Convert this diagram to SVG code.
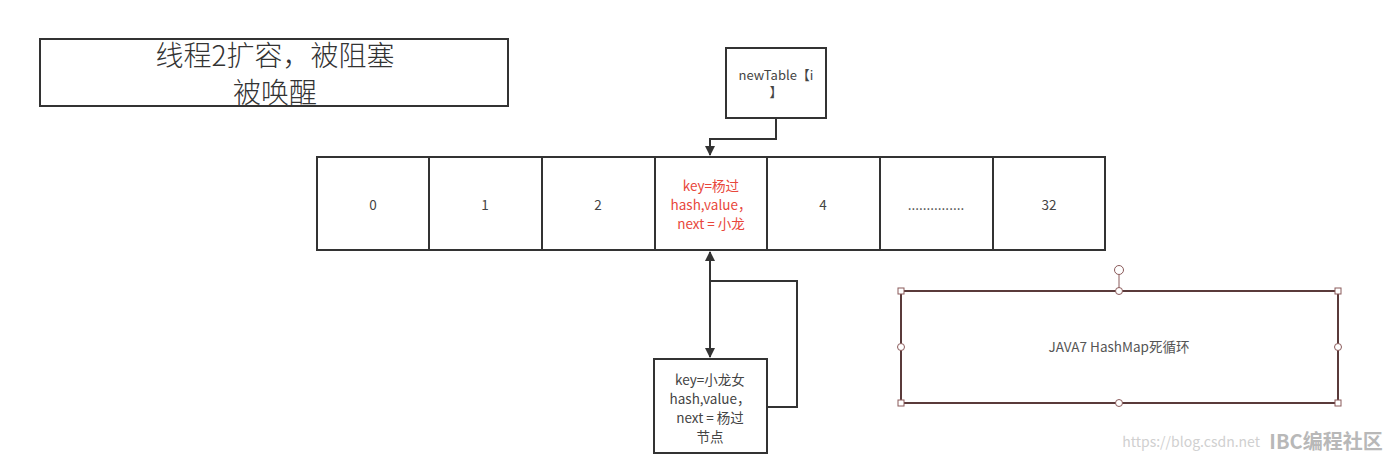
<svg xmlns="http://www.w3.org/2000/svg" width="1395" height="465" viewBox="0 0 1395 465">
<style>
text{font-family:"Noto Sans CJK SC","Liberation Sans",sans-serif;fill:#444;text-anchor:middle}
.box{fill:#fff;stroke:#333;stroke-width:2}
.cell{fill:#fff;stroke:#333;stroke-width:2}
.s{font-size:13.5px}
.red{fill:#e8473c}
.conn{fill:none;stroke:#333;stroke-width:2}
.h{fill:#fff;stroke:#8a5a5a;stroke-width:1}
</style>
<defs>
<marker id="ah" viewBox="0 0 10 10" refX="9" refY="5" markerWidth="10" markerHeight="12" markerUnits="userSpaceOnUse" orient="auto-start-reverse">
<path d="M0,0 L10,5 L0,10 z" fill="#333"/>
</marker>
</defs>
<rect width="1395" height="465" fill="#fff"/>
<g id="title">
<rect class="box" x="40" y="39" width="468" height="67"/>
<text x="275" y="66" style="font-size:28px;font-weight:300;fill:#333">线程2扩容，被阻塞</text>
<text x="275" y="103" style="font-size:28px;font-weight:300;fill:#333">被唤醒</text>
</g>
<g id="newTable">
<rect class="box" x="726" y="48" width="100" height="70"/>
<text x="776" y="80" style="font-size:13px">newTable【i</text>
<text x="776" y="97" style="font-size:13px">】</text>
</g>
<g id="array">
<rect class="cell" x="317" y="157" width="112" height="93"/>
<rect class="cell" x="429" y="157" width="113" height="93"/>
<rect class="cell" x="542" y="157" width="113" height="93"/>
<rect class="cell" x="655" y="157" width="112" height="93"/>
<rect class="cell" x="767" y="157" width="113" height="93"/>
<rect class="cell" x="880" y="157" width="113" height="93"/>
<rect class="cell" x="993" y="157" width="112" height="93"/>
<text class="s" x="373" y="210">0</text>
<text class="s" x="485" y="210">1</text>
<text class="s" x="598" y="210">2</text>
<text class="s red" x="711" y="191">key=杨过</text>
<text class="s red" x="711" y="210">hash,value，</text>
<text class="s red" x="711" y="229">next = 小龙</text>
<text class="s" x="823" y="210">4</text>
<text class="s" x="936" y="210">...............</text>
<text class="s" x="1049" y="210">32</text>
</g>
<g id="node2">
<rect class="box" x="654" y="359" width="113" height="94"/>
<text class="s" x="710" y="385">key=小龙女</text>
<text class="s" x="710" y="404">hash,value，</text>
<text class="s" x="710" y="423">next = 杨过</text>
<text class="s" x="710" y="442">节点</text>
</g>
<g id="note">
<rect x="901" y="291" width="437" height="112" fill="#fff" stroke="#5a3a3a" stroke-width="2"/>
<text class="s" x="1119" y="352" style="fill:#555">JAVA7 HashMap死循环</text>
<line x1="1119" y1="275" x2="1119" y2="291" stroke="#8a5a5a" stroke-width="1"/>
<circle class="h" cx="1119" cy="270" r="4.5"/>
<rect class="h" x="898" y="288" width="6" height="6"/>
<rect class="h" x="1335" y="288" width="6" height="6"/>
<rect class="h" x="898" y="400" width="6" height="6"/>
<rect class="h" x="1335" y="400" width="6" height="6"/>
<circle class="h" cx="1119" cy="291" r="3.5"/>
<circle class="h" cx="1119" cy="403" r="3.5"/>
<circle class="h" cx="901" cy="347" r="3.5"/>
<circle class="h" cx="1338" cy="347" r="3.5"/>
</g>
<g id="connectors">
<path class="conn" d="M776,118 V139 H710 V155" marker-end="url(#ah)"/>
<path class="conn" d="M710,252 V357" marker-start="url(#ah)" marker-end="url(#ah)"/>
<path class="conn" d="M767,407 H797 V281 H710"/>
</g>
<g id="watermark">
<text x="1260" y="447" style="font-size:14px;fill:#d0d0d0;text-anchor:end">https://blog.csdn.net</text>
<text x="1326" y="449" style="font-size:20px;font-weight:bold;fill:#b8b8b8">IBC编程社区</text>
</g>
</svg>
